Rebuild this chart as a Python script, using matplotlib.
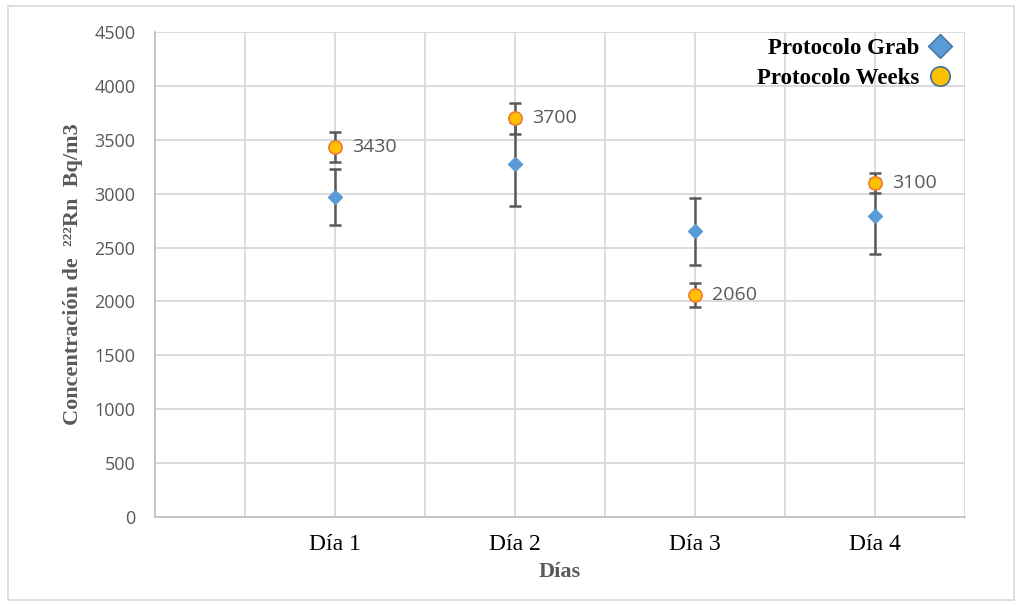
import matplotlib
matplotlib.use("Agg")
import matplotlib.pyplot as plt
from matplotlib.lines import Line2D
from matplotlib.patches import Rectangle

# Data
dias = ["Día 1", "Día 2", "Día 3", "Día 4"]
grab = [2970, 3280, 2650, 2790]
grab_err = [260, 390, 310, 350]
weeks = [3430, 3700, 2060, 3100]
weeks_err = [140, 145, 110, 95]

gray = "#595959"
serif = ["Liberation Serif", "DejaVu Serif"]

fig = plt.figure(figsize=(10.2, 6.05), dpi=100)
fig.patches.append(Rectangle((0.008, 0.008), 0.986, 0.982, transform=fig.transFigure,
                             fill=False, edgecolor="#D9D9D9", linewidth=1.2))
ax = fig.add_axes([0.152, 0.1455, 0.794, 0.8015])

xpos = [2 * (i + 1) for i in range(len(dias))]

ax.errorbar(xpos, grab, yerr=grab_err, fmt="none", ecolor=gray, elinewidth=1.8,
            capsize=4, capthick=1.8, zorder=3)
ax.errorbar(xpos, weeks, yerr=weeks_err, fmt="none", ecolor=gray, elinewidth=1.8,
            capsize=4, capthick=1.8, zorder=3)
ax.plot(xpos, grab, linestyle="none", marker="D", markersize=7,
        markerfacecolor="#5B9BD5", markeredgecolor="#5B9BD5", zorder=4)
ax.plot(xpos, weeks, linestyle="none", marker="o", markersize=9.5,
        markerfacecolor="#FFC000", markeredgecolor="#ED7D31", markeredgewidth=1.2, zorder=5)

for x, v in zip(xpos, weeks):
    ax.annotate(str(v), (x, v), xytext=(12, 0), textcoords="offset points",
                va="center", ha="left", fontsize=14, color=gray,
                family="Open Sans")

ax.set_xlim(0, 9)
ax.set_ylim(0, 4500)
ax.set_xticks(xpos)
ax.set_xticklabels(dias, family=serif, fontsize=17, color="black")
ax.set_xticks(range(0, 10), minor=True)
ax.set_yticks(range(0, 4501, 500))
ax.tick_params(axis="y", labelsize=13, labelcolor=gray, length=0, pad=14)
for lbl in ax.get_yticklabels():
    lbl.set_family("Open Sans")
ax.tick_params(axis="x", which="both", length=0, pad=12)

ax.grid(True, axis="y", color="#D9D9D9", linewidth=1.3)
ax.grid(True, axis="x", which="both", color="#D9D9D9", linewidth=1.3)
ax.set_axisbelow(True)
for s in ["top", "right"]:
    ax.spines[s].set_visible(False)
for s in ["left", "bottom"]:
    ax.spines[s].set_color("#BFBFBF")
    ax.spines[s].set_linewidth(1.2)

ax.set_xlabel("Días", family=serif, fontsize=16, fontweight="bold", color=gray, labelpad=5)
ax.set_ylabel("Concentración de  ²²²Rn  Bq/m3", family=serif, fontsize=16,
              fontweight="bold", color=gray, labelpad=8)

handles = [
    Line2D([], [], linestyle="none", marker="D", markersize=12,
           markerfacecolor="#5B9BD5", markeredgecolor="#41719C", markeredgewidth=1.0),
    Line2D([], [], linestyle="none", marker="o", markersize=14,
           markerfacecolor="#FFC000", markeredgecolor="#41719C", markeredgewidth=1.2),
]
ax.legend(handles, ["Protocolo Grab", "Protocolo Weeks"], loc="upper right",
          bbox_to_anchor=(1.012, 1.03), frameon=False, markerfirst=False,
          prop={"family": serif, "weight": "bold", "size": 16.5},
          handletextpad=0.3, labelspacing=0.4, handlelength=1.2)

fig.savefig("out.png", dpi=100)
